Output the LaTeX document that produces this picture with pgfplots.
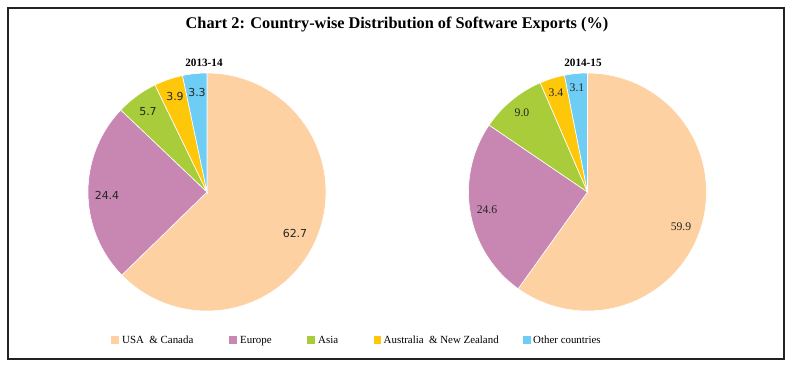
\documentclass[border=0pt]{standalone}
\usepackage{pgfplots}
\usepackage{pgfplotstable}
\pgfplotsset{compat=1.18}
\usepackage{fontspec}
\setmainfont{Liberation Serif}
\newfontfamily\labsans{DejaVu Sans}
\definecolor{cUSA}{HTML}{FDD1A2}
\definecolor{cEur}{HTML}{C886B2}
\definecolor{cAsia}{HTML}{A9CD3A}
\definecolor{cAus}{HTML}{FFC70A}
\definecolor{cOth}{HTML}{6DCDF4}
\definecolor{frame}{HTML}{222222}

\pgfplotstableread{
value col
62.7 cUSA
24.4 cEur
5.7  cAsia
3.9  cAus
3.3  cOth
}\pieA
\pgfplotstableread{
value col
59.9 cUSA
24.6 cEur
9.0  cAsia
3.4  cAus
3.1  cOth
}\pieB

\newcommand\drawpie[4]{%
  \def\cum{0}%
  \pgfplotsforeachungrouped \i in {0,...,4}{%
    \pgfplotstablegetelem{\i}{value}\of#1\let\val\pgfplotsretval
    \pgfplotstablegetelem{\i}{col}\of#1\let\col\pgfplotsretval
    \pgfmathsetmacro\angB{90-3.6*\cum}%
    \pgfmathsetmacro\cum{\cum+\val}%
    \pgfmathsetmacro\angA{90-3.6*\cum}%
    \edef\tmp{\noexpand\addplot[fill=\col, draw=white, line width=0.6pt, domain=\angA:\angB, samples=90] ({#2+#4*cos(x)},{#3+#4*sin(x)}) -- (axis cs:#2,#3) -- cycle;}%
    \tmp
  }%
}

\begin{document}
\begin{tikzpicture}
\begin{axis}[
  scale only axis, width=798pt, height=367pt,
  xmin=0, xmax=798, ymin=0, ymax=367,
  hide axis, clip=false,
]
\path (axis cs:0,0) rectangle (axis cs:798,367);
\draw[frame, line width=1.2pt] (axis cs:8,8) rectangle (axis cs:784,359);

\drawpie{\pieA}{207}{175}{119}
\drawpie{\pieB}{587.5}{175}{119}

\node[font=\bfseries\fontsize{16.3}{19}\selectfont] at (axis cs:397,342) {Chart 2: Country-wise Distribution of Software Exports (\%)};
\node[font=\bfseries\fontsize{11.2}{13}\selectfont] at (axis cs:204,304) {2013-14};
\node[font=\bfseries\fontsize{11.2}{13}\selectfont] at (axis cs:583,304) {2014-15};

\begin{scope}[font=\labsans\fontsize{11}{13}\selectfont, text=black!85]
\node at (axis cs:295,134) {62.7};
\node at (axis cs:107,172) {24.4};
\node at (axis cs:148,255) {5.7};
\node at (axis cs:175,271) {3.9};
\node at (axis cs:197,275) {3.3};
\end{scope}
\begin{scope}[font=\fontsize{11.7}{13}\selectfont, text=black!85]
\node at (axis cs:681,140) {59.9};
\node at (axis cs:487,157) {24.6};
\node at (axis cs:522,254) {9.0};
\node at (axis cs:556,274) {3.4};
\node at (axis cs:577,279) {3.1};
\end{scope}

\begin{scope}[font=\fontsize{10.9}{13}\selectfont, every node/.style={anchor=base west, inner sep=0pt}]
\fill[cUSA] (axis cs:111,23.5) rectangle (axis cs:118.5,31);
\node at (axis cs:122,23.3) {USA\ \ \& Canada};
\fill[cEur] (axis cs:229,23.5) rectangle (axis cs:236.5,31);
\node at (axis cs:240,23.3) {Europe};
\fill[cAsia] (axis cs:307,23.5) rectangle (axis cs:314.5,31);
\node at (axis cs:318,23.3) {Asia};
\fill[cAus] (axis cs:373.5,23.5) rectangle (axis cs:381,31);
\node at (axis cs:383.5,23.3) {Australia\ \ \& New Zealand};
\fill[cOth] (axis cs:523,23.5) rectangle (axis cs:530.5,31);
\node at (axis cs:533,23.3) {Other countries};
\end{scope}
\end{axis}
\end{tikzpicture}
\end{document}
